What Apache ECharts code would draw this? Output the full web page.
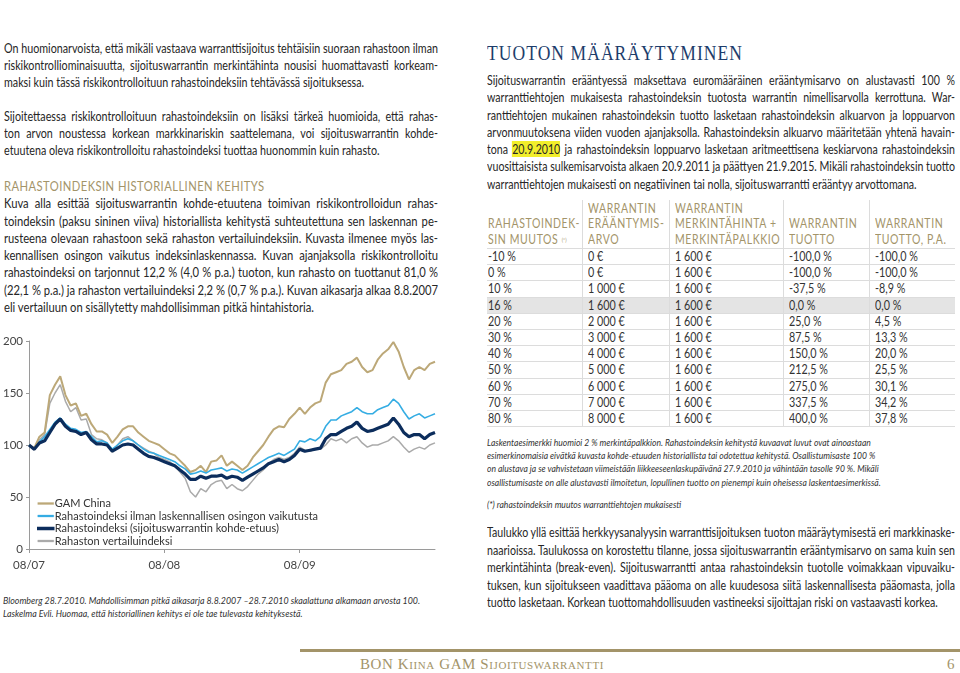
<!DOCTYPE html>
<html><head><meta charset="utf-8">
<script src="https://cdn.jsdelivr.net/npm/echarts@6/dist/echarts.min.js"></script>
<style>
html,body{margin:0;padding:0;background:#fff;width:960px;height:673px;overflow:hidden;}
body{position:relative;font-family:Lato,"Liberation Sans",sans-serif;color:#262626;}
.blk{position:absolute;}
.ln{display:block;white-space:nowrap;overflow:visible;}
.in{display:inline-block;white-space:nowrap;transform-origin:0 50%;}
.body{font-size:12.8px;}
.tan{color:#a39469;}
.hl{background:#f2ee2a;}
.note{font-style:italic;font-size:9.5px;color:#333;}
table.t{position:absolute;left:487px;top:200px;width:468px;border-collapse:collapse;table-layout:fixed;font-size:12.5px;}
table.t td,table.t th{padding:0 0 0 5px;border-left:1px solid #dcdcdc;border-bottom:1px solid #dcdcdc;white-space:nowrap;overflow:hidden;}
table.t td:first-child,table.t th:first-child{border-left:none;padding-left:1px;}
table.t th{font-weight:normal;text-align:left;vertical-align:bottom;color:#a39469;letter-spacing:0.7px;line-height:15.5px;padding-bottom:1px;height:47px;font-size:12.5px;}
table.t td{height:15.2px;line-height:15px;color:#333;}
table.t tr.g td{background:#e4e4e4;}
sup{font-size:6px;vertical-align:top;letter-spacing:0;}
#chart{position:absolute;left:0;top:330px;width:450px;height:250px;}
</style></head><body>

<div class="blk body" style="left:4px;top:40px;width:434px;line-height:17px;">
<div class="ln">On huomionarvoista, että mikäli vastaava warranttisijoitus tehtäisiin suoraan rahastoon ilman</div>
<div class="ln">riskikontrolliominaisuutta, sijoituswarrantin merkintähinta nousisi huomattavasti korkeam-</div>
<div class="ln last">maksi kuin tässä riskikontrolloituun rahastoindeksiin tehtävässä sijoituksessa.</div>
<div class="ln last">&nbsp;</div>
<div class="ln">Sijoitettaessa riskikontrolloituun rahastoindeksiin on lisäksi tärkeä huomioida, että rahas-</div>
<div class="ln">ton arvon noustessa korkean markkinariskin saattelemana, voi sijoituswarrantin kohde-</div>
<div class="ln last">etuutena oleva riskikontrolloitu rahastoindeksi tuottaa huonommin kuin rahasto.</div>
</div>

<div class="blk body" style="left:4px;top:178px;width:434px;line-height:17.3px;">
<div class="ln last tan" style="letter-spacing:0.5px">RAHASTOINDEKSIN HISTORIALLINEN KEHITYS</div>
<div class="ln">Kuva alla esittää sijoituswarrantin kohde-etuutena toimivan riskikontrolloidun rahas-</div>
<div class="ln">toindeksin (paksu sininen viiva) historiallista kehitystä suhteutettuna sen laskennan pe-</div>
<div class="ln">rusteena olevaan rahastoon sekä rahaston vertailuindeksiin. Kuvasta ilmenee myös las-</div>
<div class="ln">kennallisen osingon vaikutus indeksinlaskennassa. Kuvan ajanjaksolla riskikontrolloitu</div>
<div class="ln">rahastoindeksi on tarjonnut 12,2 % (4,0 % p.a.) tuoton, kun rahasto on tuottanut 81,0 %</div>
<div class="ln">(22,1 % p.a.) ja rahaston vertailuindeksi 2,2 % (0,7 % p.a.). Kuvan aikasarja alkaa 8.8.2007</div>
<div class="ln last">eli vertailuun on sisällytetty mahdollisimman pitkä hintahistoria.</div>
</div>

<div id="chart"></div>

<div class="blk note" data-s="0.93" style="left:3px;top:594px;width:440px;line-height:13px;">
<div class="ln last">Bloomberg 28.7.2010. Mahdollisimman pitkä aikasarja 8.8.2007 –28.7.2010 skaalattuna alkamaan arvosta 100.</div>
<div class="ln last">Laskelma Evli. Huomaa, että historiallinen kehitys ei ole tae tulevasta kehityksestä.</div>
</div>

<div class="blk" style="left:487px;top:40px;width:256px;font-family:'Liberation Serif','DejaVu Serif',serif;font-size:20px;letter-spacing:1.2px;color:#1d3d6b;line-height:26px;">
<div class="ln fit">TUOTON MÄÄRÄYTYMINEN</div></div>

<div class="blk body" style="left:487px;top:72px;width:468px;line-height:17.3px;">
<div class="ln">Sijoituswarrantin erääntyessä maksettava euromääräinen erääntymisarvo on alustavasti 100 %</div>
<div class="ln">warranttiehtojen mukaisesta rahastoindeksin tuotosta warrantin nimellisarvolla kerrottuna. War-</div>
<div class="ln">ranttiehtojen mukainen rahastoindeksin tuotto lasketaan rahastoindeksin alkuarvon ja loppuarvon</div>
<div class="ln">arvonmuutoksena viiden vuoden ajanjaksolla. Rahastoindeksin alkuarvo määritetään yhtenä havain-</div>
<div class="ln">tona <span class="hl">20.9.2010</span> ja rahastoindeksin loppuarvo lasketaan aritmeettisena keskiarvona rahastoindeksin</div>
<div class="ln">vuosittaisista sulkemisarvoista alkaen 20.9.2011 ja päättyen 21.9.2015. Mikäli rahastoindeksin tuotto</div>
<div class="ln last">warranttiehtojen mukaisesti on negatiivinen tai nolla, sijoituswarrantti erääntyy arvottomana.</div>
</div>

<table class="t" id="tbl">
<colgroup><col style="width:95px"><col style="width:87px"><col style="width:114px"><col style="width:86px"><col style="width:86px"></colgroup>
<thead><tr>
<th>RAHASTOINDEK-<br>SIN MUUTOS <sup>(*)</sup></th>
<th>WARRANTIN<br>ERÄÄNTYMIS-<br>ARVO</th>
<th>WARRANTIN<br>MERKINTÄHINTA +<br>MERKINTÄPALKKIO</th>
<th>WARRANTIN<br>TUOTTO</th>
<th>WARRANTIN<br>TUOTTO, P.A.</th>
</tr></thead>
<tbody id="tbody"></tbody>
</table>

<div class="blk note" data-s="0.9" style="left:487px;top:436px;width:468px;line-height:13.2px;">
<div class="ln last">Laskentaesimerkki huomioi 2 % merkintäpalkkion. Rahastoindeksin kehitystä kuvaavat luvut ovat ainoastaan</div>
<div class="ln last">esimerkinomaisia eivätkä kuvasta kohde-etuuden historiallista tai odotettua kehitystä. Osallistumisaste 100 %</div>
<div class="ln last">on alustava ja se vahvistetaan viimeistään liikkeeseenlaskupäivänä 27.9.2010 ja vähintään tasolle 90 %. Mikäli</div>
<div class="ln last">osallistumisaste on alle alustavasti ilmoitetun, lopullinen tuotto on pienempi kuin oheisessa laskentaesimerkissä.</div>
</div>
<div class="blk note" data-s="0.9" style="left:487px;top:499px;width:468px;line-height:12px;">
<div class="ln last">(*) rahastoindeksin muutos warranttiehtojen mukaisesti</div></div>

<div class="blk body" style="left:487px;top:524px;width:468px;line-height:17.5px;">
<div class="ln">Taulukko yllä esittää herkkyysanalyysin warranttisijoituksen tuoton määräytymisestä eri markkinaske-</div>
<div class="ln">naarioissa. Taulukossa on korostettu tilanne, jossa sijoituswarrantin erääntymisarvo on sama kuin sen</div>
<div class="ln">merkintähinta (break-even). Sijoituswarrantti antaa rahastoindeksin tuotolle voimakkaan vipuvaiku-</div>
<div class="ln">tuksen, kun sijoitukseen vaadittava pääoma on alle kuudesosa siitä laskennallisesta pääomasta, jolla</div>
<div class="ln last">tuotto lasketaan. Korkean tuottomahdollisuuden vastineeksi sijoittajan riski on vastaavasti korkea.</div>
</div>

<div class="blk" style="left:300px;top:649px;width:660px;height:3px;background:#a39469;"></div>
<div class="blk" style="left:360px;top:655px;font-family:'Liberation Serif','DejaVu Serif',serif;font-size:15px;font-variant:small-caps;letter-spacing:0.6px;color:#a39469;line-height:18px;">BON Kiina GAM Sijoituswarrantti</div>
<div class="blk" style="left:947px;top:655px;font-family:'Liberation Serif','DejaVu Serif',serif;font-size:15px;color:#a39469;line-height:18px;">6</div>

<script>
// ---------- table data ----------
var tblIndexChange = ['-10 %','0 %','10 %','16 %','20 %','30 %','40 %','50 %','60 %','70 %','80 %'];
var tblMaturityValue = ['0 €','0 €','1 000 €','1 600 €','2 000 €','3 000 €','4 000 €','5 000 €','6 000 €','7 000 €','8 000 €'];
var tblPrice = ['1 600 €','1 600 €','1 600 €','1 600 €','1 600 €','1 600 €','1 600 €','1 600 €','1 600 €','1 600 €','1 600 €'];
var tblReturn = ['-100,0 %','-100,0 %','-37,5 %','0,0 %','25,0 %','87,5 %','150,0 %','212,5 %','275,0 %','337,5 %','400,0 %'];
var tblReturnPa = ['-100,0 %','-100,0 %','-8,9 %','0,0 %','4,5 %','13,3 %','20,0 %','25,5 %','30,1 %','34,2 %','37,8 %'];
var tblHighlightRow = 3;

// ---------- chart data (bi-weekly readings, start = 100) ----------
var dates = ['2007-08-08','2007-08-22','2007-09-05','2007-09-19','2007-10-03','2007-10-17','2007-10-31','2007-11-14','2007-11-28','2007-12-12','2007-12-26',
'2008-01-09','2008-01-23','2008-02-06','2008-02-20','2008-03-05','2008-03-19','2008-04-02','2008-04-16','2008-04-30','2008-05-14','2008-05-28','2008-06-11','2008-06-25','2008-07-09','2008-07-23',
'2008-08-06','2008-08-20','2008-09-03','2008-09-17','2008-10-01','2008-10-15','2008-10-29','2008-11-12','2008-11-26','2008-12-10','2008-12-24',
'2009-01-07','2009-01-21','2009-02-04','2009-02-18','2009-03-04','2009-03-18','2009-04-01','2009-04-15','2009-04-29','2009-05-13','2009-05-27','2009-06-10','2009-06-24','2009-07-08','2009-07-22',
'2009-08-05','2009-08-19','2009-09-02','2009-09-16','2009-09-30','2009-10-14','2009-10-28','2009-11-11','2009-11-25','2009-12-09','2009-12-23',
'2010-01-06','2010-01-20','2010-02-03','2010-02-17','2010-03-03','2010-03-17','2010-03-31','2010-04-14','2010-04-28','2010-05-12','2010-05-26','2010-06-09','2010-06-23','2010-07-07','2010-07-21','2010-07-28'];

var gamChina = [100,97,108,112,148,158,166,148,138,140,128,130,120,113,113,110,102,108,115,118,118,112,108,104,102,100,
96,92,90,85,80,74,76,80,74,84,85,90,80,84,80,76,80,88,94,100,108,115,118,117,125,130,
136,130,136,140,142,160,168,170,172,178,180,184,175,170,172,182,188,192,199,190,175,163,172,175,172,178,180];

var indexNoDividend = [100,96,103,108,115,122,126,120,116,115,112,113,108,103,104,102,96,100,104,106,104,100,96,93,92,90,
88,86,84,80,77,72,73,75,73,76,77,78,75,77,76,73,76,79,82,85,88,90,92,90,93,96,
104,103,106,104,108,118,124,124,128,130,132,136,132,130,130,134,136,138,144,140,132,125,128,130,126,128,130];

var indexWarrant = [100,96,102,104,112,120,125,118,114,113,110,112,105,101,101,100,94,97,100,101,100,96,92,89,88,86,
84,82,80,76,72,67,67,70,68,70,70,71,68,70,69,66,69,72,75,78,82,84,86,84,86,90,
96,94,95,96,97,106,110,110,113,116,118,122,116,113,114,116,118,120,126,120,112,108,110,110,106,110,112];

var benchmark = [100,95,105,110,140,150,158,142,132,136,124,125,110,106,105,102,93,100,106,108,104,100,97,94,92,88,
86,84,80,74,68,55,50,58,55,62,65,66,58,62,58,56,60,66,72,76,82,86,88,86,88,92,
98,95,94,96,96,100,106,104,106,102,106,108,102,98,100,100,102,104,108,104,98,93,96,98,96,100,102];

var seriesNames = ['GAM China','Rahastoindeksi ilman laskennallisen osingon vaikutusta','Rahastoindeksi (sijoituswarrantin kohde-etuus)','Rahaston vertailuindeksi'];
var yTicks = [0, 50, 100, 150, 200];

// ---------- build table ----------
(function(){
  var tb = document.getElementById('tbody'), h='';
  for (var i=0;i<tblIndexChange.length;i++){
    h += '<tr'+(i===tblHighlightRow?' class="g"':'')+'><td>'+tblIndexChange[i]+'</td><td>'+tblMaturityValue[i]+'</td><td>'+tblPrice[i]+'</td><td>'+tblReturn[i]+'</td><td>'+tblReturnPa[i]+'</td></tr>';
  }
  tb.innerHTML = h;
  document.querySelectorAll('#tbl th').forEach(function(c){
    c.innerHTML = '<span class="in" style="transform:scaleX(0.84);transform-origin:0 100%">'+c.innerHTML+'</span>';
  });
  document.querySelectorAll('#tbl td').forEach(function(c){
    c.innerHTML = '<span class="in" style="transform:scaleX(0.86)">'+c.innerHTML+'</span>';
  });
})();

// ---------- justify text lines (uniform horizontal scale per block) ----------
document.querySelectorAll('.blk').forEach(function(blk){
  var lines = blk.querySelectorAll('.ln');
  if (!lines.length) return;
  var W = blk.clientWidth, info = [], S = blk.dataset.s ? parseFloat(blk.dataset.s) : Infinity;
  lines.forEach(function(el){
    el.innerHTML = '<span class="in">'+el.innerHTML+'</span>';
    var sp = el.firstElementChild;
    var w = sp.getBoundingClientRect().width;
    var just = !el.classList.contains('last');
    info.push({el:el, sp:sp, w:w, just:just});
    if (!blk.dataset.s && just && w > 0) S = Math.min(S, W / w);
  });
  if (!isFinite(S)) S = 1;
  info.forEach(function(o){
    if (o.el.classList.contains('fit')) { o.sp.style.transform = 'scaleX(' + (W/o.w) + ')'; return; }
    var s = S;
    if (o.w * s > W) s = W / o.w;
    o.sp.style.transform = 'scaleX(' + s + ')';
    if (o.just) {
      var n = (o.sp.textContent.match(/ /g)||[]).length;
      if (n) o.sp.style.wordSpacing = ((W / s - o.w) / n) + 'px';
    }
  });
});

// ---------- chart ----------
function isYearTick(idx){
  if (idx === 0) return true;
  return dates[idx].slice(5,7) === '08' && dates[idx-1].slice(5,7) !== '08';
}
var chart = echarts.init(document.getElementById('chart'), null, {renderer:'canvas'});
var colors = ['#bca878','#35ade3','#0c2d5c','#aaaaaa'];
var widths = [2, 1.6, 3.2, 1.5];
var vals = [gamChina, indexNoDividend, indexWarrant, benchmark];
var zs = [3, 4, 5, 2];
chart.setOption({
  animation:false,
  textStyle:{fontFamily:'Lato,"Liberation Sans",sans-serif'},
  grid:{left:25,right:15,top:11,bottom:31},
  legend:{
    orient:'vertical', left:37, top:168, itemWidth:16, itemHeight:2, itemGap:1.5,
    padding:0,
    data: seriesNames.map(function(n,k){
      return {name:n, icon:'rect', itemStyle:{color:colors[k], borderColor:colors[k], borderWidth:(k===2?1.5:0.3)}};
    }),
    textStyle:{fontSize:11,color:'#333',padding:[0,0,0,-4]}
  },
  xAxis:{
    type:'category', data:dates, boundaryGap:false,
    axisLine:{lineStyle:{color:'#9a9a9a',width:1}},
    axisTick:{show:true,interval:function(i){return isYearTick(i);},length:4,lineStyle:{color:'#9a9a9a'}},
    axisLabel:{interval:function(i){return isYearTick(i);},formatter:function(v){return v.slice(5,7)+'/'+v.slice(2,4);},color:'#444',fontSize:11.5,margin:10}
  },
  yAxis:{
    type:'value', min:yTicks[0], max:yTicks[yTicks.length-1], interval:yTicks[1]-yTicks[0],
    axisLine:{show:true,lineStyle:{color:'#9a9a9a',width:1}},
    axisTick:{show:true,length:3,lineStyle:{color:'#9a9a9a'}},
    splitLine:{show:false},
    axisLabel:{color:'#444',fontSize:11.5,margin:6}
  },
  series: seriesNames.map(function(n,k){
    return {name:n,type:'line',data:vals[k],symbol:'none',showSymbol:false,z:zs[k],
      lineStyle:{color:colors[k],width:widths[k]},itemStyle:{color:colors[k]}};
  })
});
</script>
</body></html>
